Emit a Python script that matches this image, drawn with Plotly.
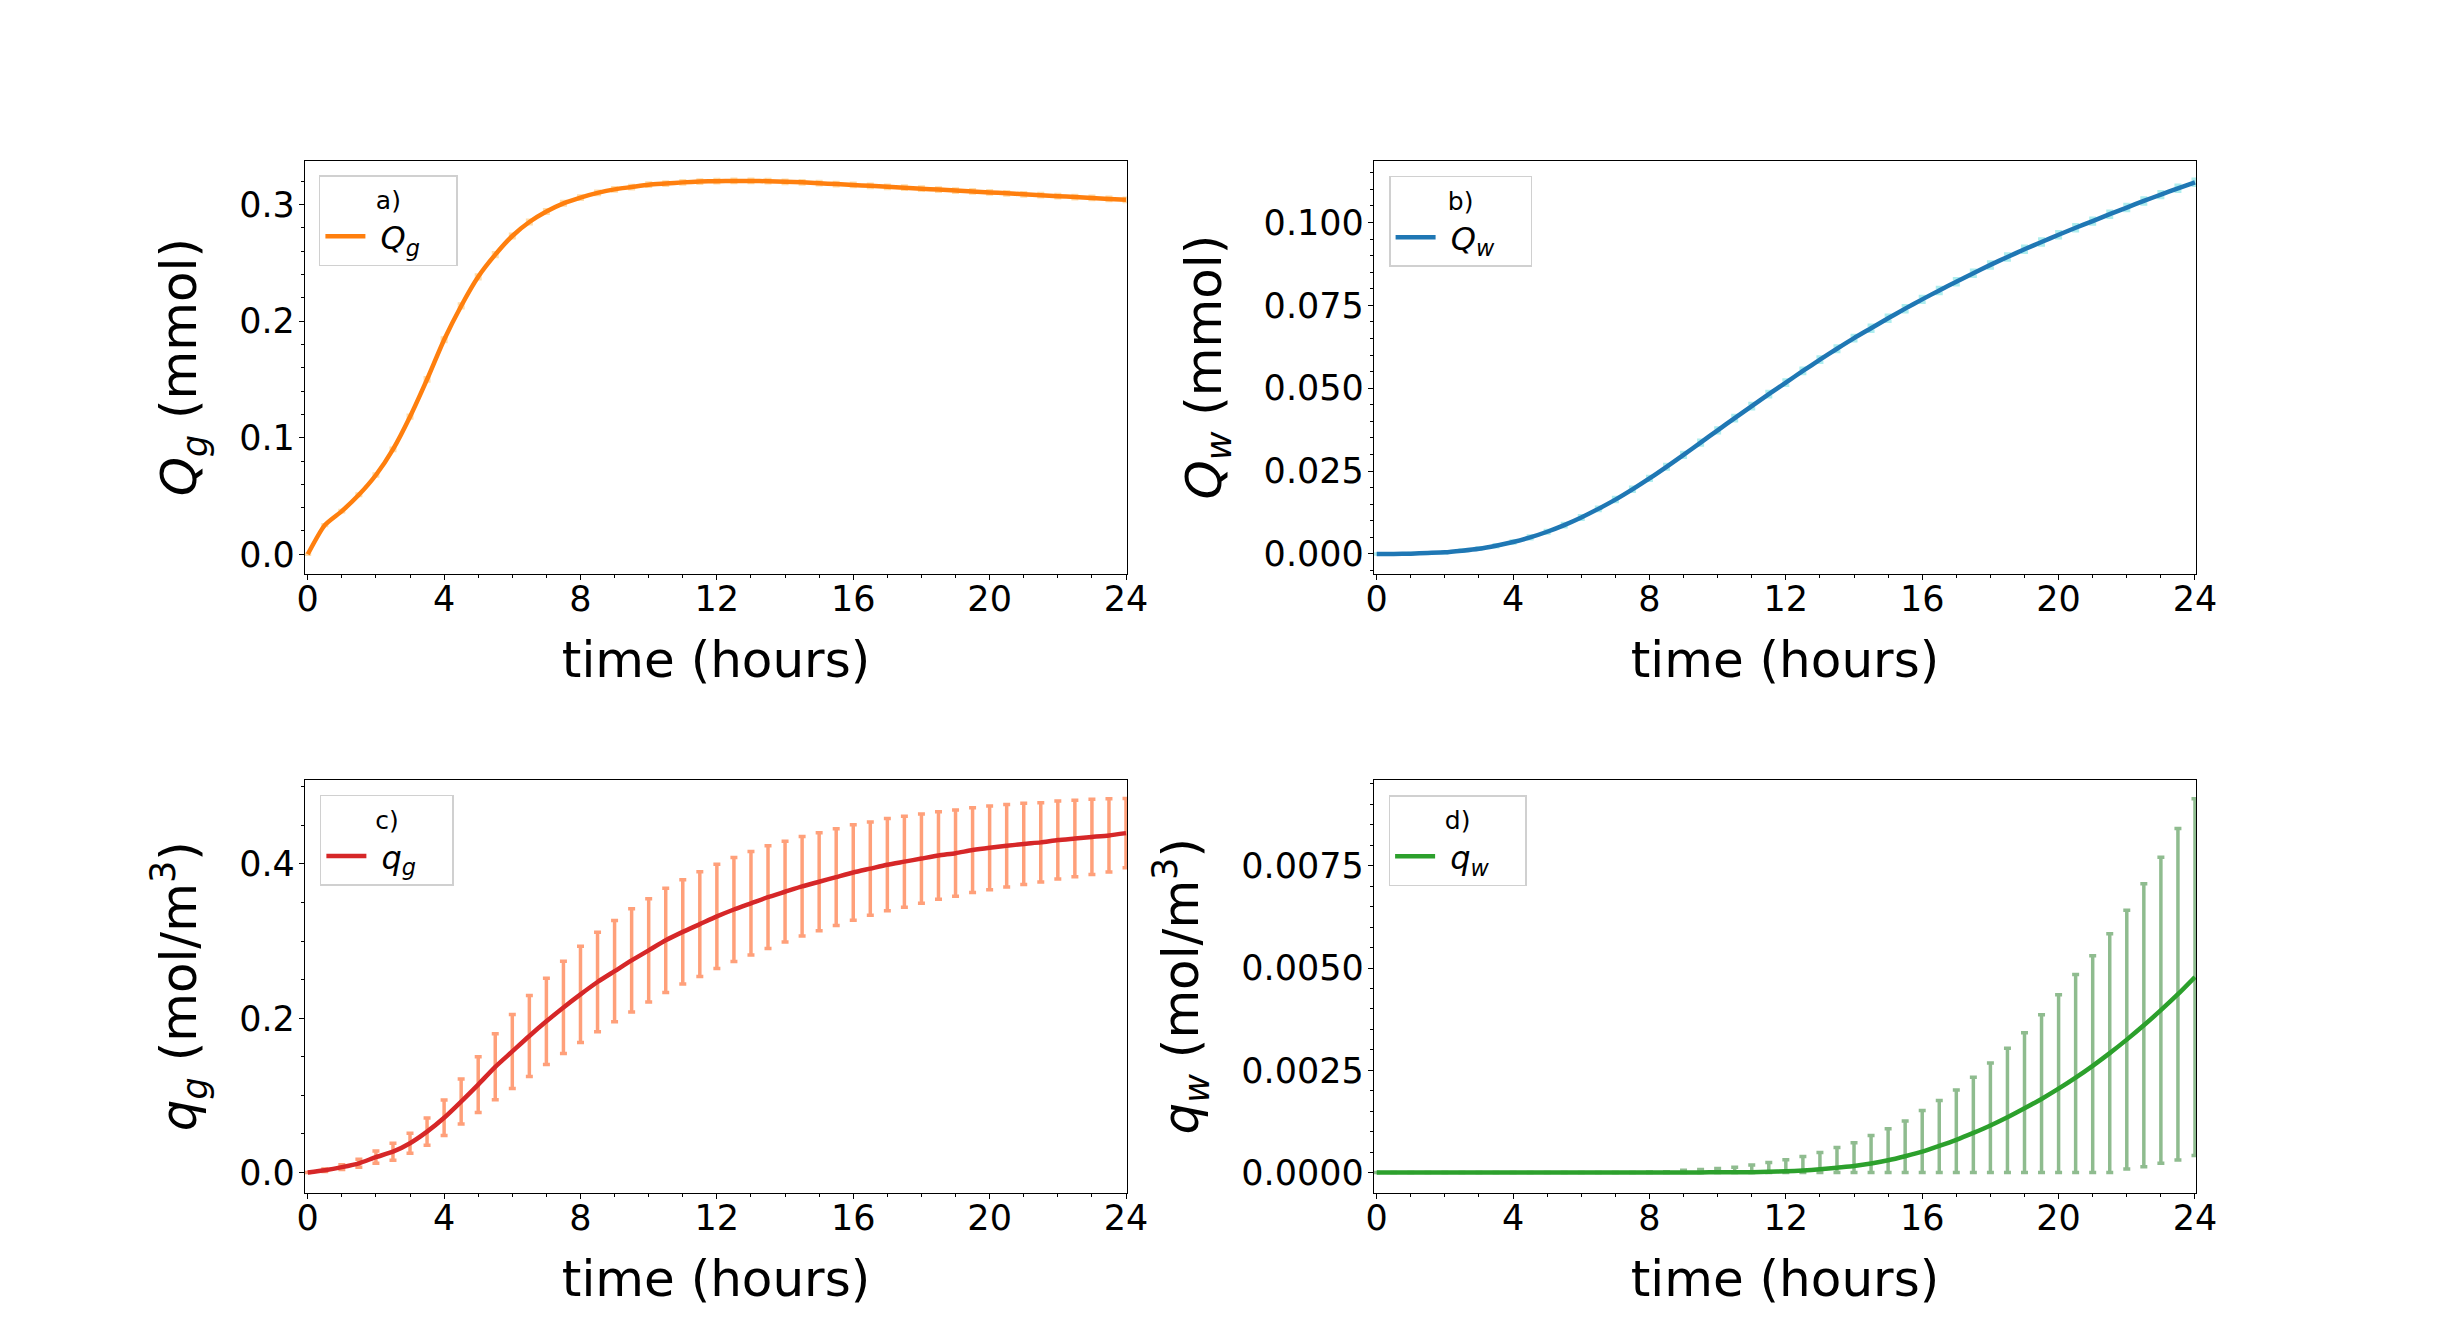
import numpy as np
import plotly.graph_objects as go

# ---------------- data ----------------
time_h = [0.0, 0.5, 1.0, 1.5, 2.0, 2.5, 3.0, 3.5, 4.0, 4.5, 5.0, 5.5, 6.0, 6.5, 7.0, 7.5,
          8.0, 8.5, 9.0, 9.5, 10.0, 10.5, 11.0, 11.5, 12.0, 12.5, 13.0, 13.5, 14.0, 14.5,
          15.0, 15.5, 16.0, 16.5, 17.0, 17.5, 18.0, 18.5, 19.0, 19.5, 20.0, 20.5, 21.0,
          21.5, 22.0, 22.5, 23.0, 23.5, 24.0]

Qg = [0.000, 0.025, 0.037, 0.051, 0.068, 0.090, 0.118, 0.150, 0.184, 0.213, 0.238, 0.257,
      0.273, 0.285, 0.294, 0.301, 0.306, 0.310, 0.313, 0.315, 0.317, 0.318, 0.319, 0.3197,
      0.3200, 0.3202, 0.3202, 0.3200, 0.3195, 0.3190, 0.3183, 0.3175, 0.3168, 0.3160,
      0.3152, 0.3144, 0.3136, 0.3128, 0.3120, 0.3112, 0.3104, 0.3096, 0.3088, 0.3080,
      0.3072, 0.3064, 0.3056, 0.3048, 0.3040]
Qg_err = [0.0000, 0.0004, 0.0005, 0.0006, 0.0008, 0.0010, 0.0012, 0.0014, 0.0015, 0.0016,
          0.0016, 0.0016, 0.0016, 0.0015, 0.0015, 0.0015, 0.0014, 0.0014, 0.0014, 0.0014,
          0.0014, 0.0014, 0.0014, 0.0014, 0.0014, 0.0014, 0.0014, 0.0014, 0.0014, 0.0014,
          0.0014, 0.0014, 0.0014, 0.0014, 0.0014, 0.0014, 0.0014, 0.0014, 0.0014, 0.0014,
          0.0014, 0.0014, 0.0014, 0.0014, 0.0014, 0.0014, 0.0014, 0.0014, 0.0014]

Qw = [0.0000, 0.00002, 0.0001, 0.0003, 0.0005, 0.0010, 0.0016, 0.0025, 0.0036, 0.0050,
      0.0067, 0.0087, 0.0110, 0.0136, 0.0164, 0.0195, 0.0228, 0.0263, 0.0299, 0.0336,
      0.0373, 0.0410, 0.0446, 0.0482, 0.0517, 0.0552, 0.0586, 0.0619, 0.0651, 0.0681,
      0.0711, 0.0740, 0.0768, 0.0795, 0.0821, 0.0847, 0.0872, 0.0896, 0.0919, 0.0941,
      0.0963, 0.0984, 0.1004, 0.1025, 0.1045, 0.1065, 0.1084, 0.1103, 0.1121]
Qw_err = [0.0000, 0.00002, 0.00005, 0.0001, 0.0001, 0.0002, 0.0002, 0.0003, 0.0003, 0.0004,
          0.0004, 0.0005, 0.0005, 0.0005, 0.0006, 0.0006, 0.0006, 0.0007, 0.0007, 0.0007,
          0.0007, 0.0008, 0.0008, 0.0008, 0.0008, 0.0008, 0.0008, 0.0008, 0.0008, 0.0009,
          0.0009, 0.0009, 0.0009, 0.0009, 0.0009, 0.0009, 0.0009, 0.0009, 0.0009, 0.0009,
          0.0009, 0.0009, 0.0009, 0.0009, 0.0009, 0.0009, 0.0009, 0.0009, 0.0009]

qg = [0.000, 0.003, 0.007, 0.012, 0.020, 0.027, 0.038, 0.053, 0.071, 0.092, 0.114, 0.137,
      0.157, 0.177, 0.196, 0.214, 0.231, 0.247, 0.261, 0.275, 0.288, 0.301, 0.312, 0.322,
      0.332, 0.341, 0.349, 0.357, 0.364, 0.371, 0.377, 0.383, 0.389, 0.394, 0.399, 0.403,
      0.407, 0.411, 0.414, 0.418, 0.421, 0.4235, 0.426, 0.428, 0.431, 0.433, 0.435, 0.437,
      0.440]
qg_err = [0.0000, 0.0015, 0.0030, 0.0052, 0.0078, 0.0110, 0.0130, 0.0176, 0.0231, 0.0292,
          0.0361, 0.0428, 0.0480, 0.0526, 0.0560, 0.0598, 0.0624, 0.0645, 0.0656, 0.0668,
          0.0670, 0.0676, 0.0676, 0.0679, 0.0676, 0.0673, 0.0670, 0.0665, 0.0653, 0.0645,
          0.0636, 0.0627, 0.0618, 0.0604, 0.0598, 0.0590, 0.0578, 0.0567, 0.0558, 0.0550,
          0.0543, 0.0535, 0.0526, 0.0515, 0.0506, 0.0497, 0.0488, 0.0474, 0.0448]

qw = [0.0, 0.0, 0.0, 0.0, 0.0, 0.0, 0.0, 0.0, 0.0, 0.0, 0.0, 0.0, 0.0, 0.0, 0.0, 0.0,
      0.000001, 0.000002, 0.000003, 0.000004, 0.000005, 0.000007, 0.00001, 0.00002,
      0.00003, 0.00005, 0.00008, 0.00012, 0.00016, 0.00022, 0.00030, 0.00040, 0.00051,
      0.00065, 0.00080, 0.00097, 0.00115, 0.00135, 0.00157, 0.00180, 0.00205, 0.00232,
      0.00261, 0.00292, 0.00325, 0.00360, 0.00397, 0.00436, 0.00478]
qw_err = [0.0, 0.0, 0.0, 0.0, 0.0, 0.0, 0.0, 0.0, 0.0, 0.0, 0.0, 0.0, 0.0, 0.0, 0.0, 0.0,
          0.00001, 0.00002, 0.000055, 0.000072, 0.000093, 0.000125, 0.000175, 0.000225,
          0.000286, 0.000343, 0.000411, 0.000491, 0.00057, 0.000685, 0.00077, 0.00086,
          0.00101, 0.00111, 0.00122, 0.00136, 0.00153, 0.00169, 0.00185, 0.00206, 0.00230,
          0.00252, 0.00269, 0.00292, 0.00316, 0.00346, 0.00374, 0.00405, 0.00436]

panel_tags = ["a)", "b)", "c)", "d)"]
series_names = ["<i>Q<sub>g</sub></i>", "<i>Q<sub>w</sub></i>",
                "<i>q<sub>g</sub></i>", "<i>q<sub>w</sub></i>"]
y_titles = ["<i>Q</i><sub><i>g</i></sub> (mmol)", "<i>Q</i><sub><i>w</i></sub> (mmol)",
            "<i>q</i><sub><i>g</i></sub> (mol/m<sup>3</sup>)",
            "<i>q</i><sub><i>w</i></sub> (mol/m<sup>3</sup>)"]
x_title = "time (hours)"
x_ticks = [0, 4, 8, 12, 16, 20, 24]

# ---------------- styling ----------------
FONT = "DejaVu Sans"
line_colors = ["#ff7f0e", "#1f77b4", "#d62728", "#2ca02c"]
err_colors = ["#ffdead", "#afeeee", "#ffa07a", "#8fbc8f"]

x_domains = [[0.125, 0.4619], [0.5631, 0.9], [0.125, 0.4619], [0.5631, 0.9]]
y_domains = [[0.572, 0.88], [0.572, 0.88], [0.11, 0.418], [0.11, 0.418]]
y_ranges = [[-0.0165, 0.3375], [-0.0059, 0.1186], [-0.026, 0.509], [-0.00049, 0.0096]]
y_dticks = [0.1, 0.025, 0.2, 0.0025]
y_minor = [0.02, 0.005, 0.05, 0.0005]
y_formats = [".1f", ".3f", ".1f", ".4f"]
legend_pos = [(0.1307, 0.8694), (0.5693, 0.8687), (0.1311, 0.4069), (0.5691, 0.4067)]

means = [Qg, Qw, qg, qw]
errs = [Qg_err, Qw_err, qg_err, qw_err]

fig = go.Figure()
for i in range(4):
    m = np.array(means[i])
    e = np.array(errs[i])
    sfx = "" if i == 0 else str(i + 1)
    fig.add_trace(go.Scatter(
        x=time_h, y=m, mode="lines", name="&nbsp;" + series_names[i] + "&nbsp;&nbsp;&nbsp;",
        line=dict(color=line_colors[i], width=4.5, shape="spline", smoothing=0.6),
        error_y=dict(type="data", array=e, arrayminus=np.minimum(e, m) if i == 3 else e,
                     symmetric=False, color=err_colors[i], thickness=3.5, width=3.5),
        xaxis="x" + sfx, yaxis="y" + sfx, legend="legend" + sfx,
        showlegend=True,
    ))

layout = dict(
    width=2440, height=1340,
    margin=dict(l=0, r=0, t=0, b=0),
    paper_bgcolor="white", plot_bgcolor="white",
    font=dict(family=FONT, color="black"),
)

for i in range(4):
    sfx = "" if i == 0 else str(i + 1)
    layout["xaxis" + sfx] = dict(
        domain=x_domains[i], anchor="y" + sfx, range=[-0.08, 24.03],
        tickvals=x_ticks, ticks="outside", ticklen=5, tickwidth=1.2, tickcolor="black",
        minor=dict(dtick=1, tick0=0, ticks="outside", ticklen=3, tickwidth=1, tickcolor="black"),
        showline=True, linecolor="black", linewidth=1.3, mirror=True,
        showgrid=False, zeroline=False,
        tickfont=dict(size=35, family=FONT),
        ticklabelstandoff=-11,
        title=dict(text=x_title, font=dict(size=50, family=FONT), standoff=24),
        automargin=False,
    )
    layout["yaxis" + sfx] = dict(
        domain=y_domains[i], anchor="x" + sfx, range=y_ranges[i],
        tick0=0, dtick=y_dticks[i], tickformat=y_formats[i],
        ticks="outside", ticklen=5, tickwidth=1.2, tickcolor="black",
        minor=dict(dtick=y_minor[i], tick0=0, ticks="outside", ticklen=3, tickwidth=1,
                   tickcolor="black"),
        showline=True, linecolor="black", linewidth=1.3, mirror=True,
        showgrid=False, zeroline=False,
        tickfont=dict(size=35, family=FONT),
        ticklabelstandoff=-3,
        title=dict(text=y_titles[i], font=dict(size=50, family=FONT), standoff=26),
        automargin=False,
    )
    layout["legend" + sfx] = dict(
        x=legend_pos[i][0], y=legend_pos[i][1], xanchor="left", yanchor="top",
        xref="paper", yref="paper",
        bgcolor="rgba(255,255,255,0.8)", bordercolor="#d0d0d0", borderwidth=1.5,
        font=dict(size=32, family=FONT),
        title=dict(text=panel_tags[i], side="top center", font=dict(size=25, family=FONT)),
        itemwidth=40,
    )

fig.update_layout(**layout)
fig.write_html("out.html", config={"displayModeBar": False},
               post_script="document.body.style.margin='0';document.body.style.overflow='hidden';")
